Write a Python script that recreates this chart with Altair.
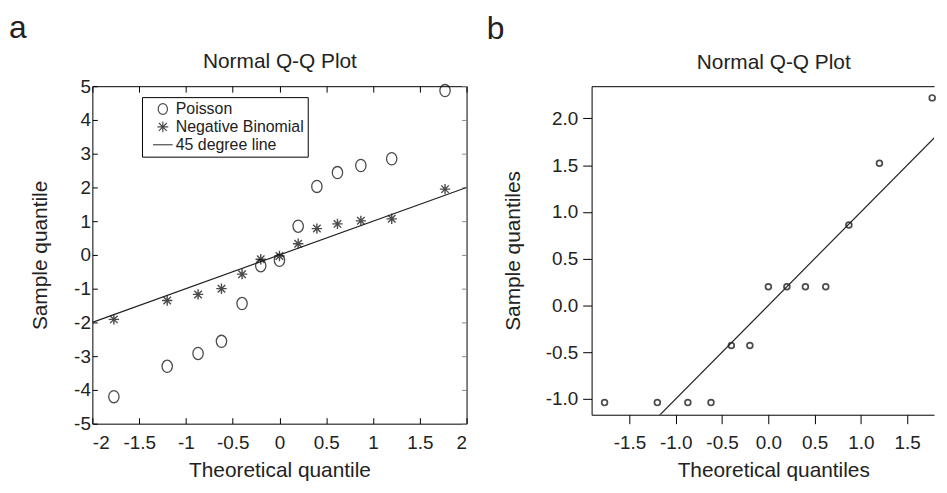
import altair as alt
import pandas as pd

# ---------------- data ----------------
theo = [-1.77, -1.2, -0.87, -0.62, -0.4, -0.2, 0.0, 0.2, 0.4, 0.62, 0.87, 1.2, 1.77]
poisson = [-4.2, -3.3, -2.92, -2.56, -1.44, -0.32, -0.16, 0.85, 2.03, 2.44, 2.65, 2.85, 4.87]
negbin = [-1.91, -1.35, -1.17, -1.0, -0.57, -0.13, -0.03, 0.33, 0.78, 0.92, 1.01, 1.07, 1.95]
line_a = [-2.0, 2.0]

sample_b = [-1.04, -1.04, -1.04, -1.04, -0.43, -0.43, 0.2, 0.2, 0.2, 0.2, 0.86, 1.52, 2.22]
line_b = [-2.0, 2.0]

series_names = ["Poisson", "Negative Binomial", "45 degree line"]
ticks_ax = [-2, -1.5, -1, -0.5, 0, 0.5, 1, 1.5, 2]
ticks_ay = [-5, -4, -3, -2, -1, 0, 1, 2, 3, 4, 5]
ticks_bx = [-1.5, -1.0, -0.5, 0.0, 0.5, 1.0, 1.5]
ticks_by = [-1.0, -0.5, 0.0, 0.5, 1.0, 1.5, 2.0]

FONT = "Liberation Sans"
TXT = "#222222"

df_p = pd.DataFrame({"theo": theo, "value": poisson, "series": series_names[0]})
df_n = pd.DataFrame({"theo": theo, "value": negbin, "series": series_names[1]})
df_la = pd.DataFrame({"lx": line_a, "ly": line_a})
df_b = pd.DataFrame({"theo": theo, "value": sample_b})
df_lb = pd.DataFrame({"lx": line_b, "ly": line_b})

ELLIPSE = "M0,-1A0.85,1,0,1,1,0,1A0.85,1,0,1,1,0,-1Z"
ASTER = "M-1,0L1,0M0,-1L0,1M-0.72,-0.72L0.72,0.72M-0.72,0.72L0.72,-0.72"
LINESYM = "M-1.8,0L1.8,0"

lab_a = "(datum.value < 0 ? '-' : '') + format(abs(datum.value), '~g')"
lab_b = "(datum.value < 0 ? '-' : '') + format(abs(datum.value), '.1f')"

# ---------------- panel a ----------------
xs_a = alt.Scale(domain=[-2, 2], nice=False, zero=False)
ys_a = alt.Scale(domain=[-5, 5], nice=False, zero=False)
shape_scale = alt.Scale(domain=series_names, range=[ELLIPSE, ASTER, LINESYM])

legend_a = alt.Legend(
    title=None, orient="none", legendX=50, legendY=11,
    strokeColor="black", fillColor="white", padding=4, rowPadding=2,
    symbolSize=120, symbolOffset=9, labelOffset=5,
    labelFontSize=16, labelFont=FONT, labelColor=TXT,
    symbolStrokeColor="black", symbolStrokeWidth=1.2,
    symbolFillColor="transparent", cornerRadius=0,
)

ax_bottom = alt.Axis(orient="bottom", values=ticks_ax, offset=-6, tickSize=6, domain=False,
                     labelExpr=lab_a, labelFontSize=19, labelPadding=10,
                     title="Theoretical quantile", titleFontSize=21, titlePadding=7)
ax_left = alt.Axis(orient="left", values=ticks_ay, offset=-5, tickSize=5, domain=False,
                   labelExpr=lab_a, labelFontSize=19, labelPadding=2,
                   title="Sample quantile", titleFontSize=21, titlePadding=23)
ax_top = alt.Axis(orient="top", values=ticks_ax, offset=-6, tickSize=6, domain=False,
                  labels=False, title="Normal Q-Q Plot", titleFontSize=21, titlePadding=14)
ax_right = alt.Axis(orient="right", values=ticks_ay, offset=-5, tickSize=5, domain=False,
                    labels=False, title=None, tickColor="#888888")

pois = alt.Chart(df_p).mark_point(filled=False, size=150, strokeWidth=1.3, color="black").encode(
    x=alt.X("theo:Q", scale=xs_a, axis=ax_bottom),
    y=alt.Y("value:Q", scale=ys_a, axis=ax_left),
    shape=alt.Shape("series:N", scale=shape_scale, legend=legend_a),
)
nb = alt.Chart(df_n).mark_point(filled=False, size=110, strokeWidth=1.4, color="black").encode(
    x=alt.X("theo:Q", scale=xs_a, axis=ax_top),
    y=alt.Y("value:Q", scale=ys_a, axis=ax_right),
    shape=alt.Shape("series:N", scale=shape_scale, legend=legend_a),
)
la = alt.Chart(df_la).mark_line(color="#222222", strokeWidth=1.2, clip=True).encode(
    x=alt.X("lx:Q", scale=xs_a, axis=None),
    y=alt.Y("ly:Q", scale=ys_a, axis=None),
)

panel_a = alt.layer(pois, nb, la).resolve_axis(x="independent", y="independent").properties(
    width=377, height=340,
    title=alt.TitleParams("a", anchor="start", fontSize=32, fontWeight="normal",
                          font=FONT, color=TXT, dx=-21, offset=6),
    view=alt.ViewBackground(stroke="black", strokeWidth=1),
)

# ---------------- panel b ----------------
xs_b = alt.Scale(domain=[-1.91, 1.79], nice=False, zero=False)
ys_b = alt.Scale(domain=[-1.17, 2.345], nice=False, zero=False)

bx_bottom = alt.Axis(orient="bottom", values=ticks_bx, tickSize=9, domain=True,
                     labelExpr=lab_b, labelFontSize=19, labelPadding=10,
                     title="Theoretical quantiles", titleFontSize=21, titlePadding=7, titleX=183)
by_left = alt.Axis(orient="left", values=ticks_by, tickSize=9, domain=True,
                   labelExpr=lab_b, labelFontSize=19, labelPadding=5,
                   title="Sample quantiles", titleFontSize=21, titlePadding=22)
bx_top = alt.Axis(orient="top", ticks=False, labels=False, domain=True,
                  title="Normal Q-Q Plot", titleFontSize=21, titlePadding=14, titleX=183)

pts_b = alt.Chart(df_b).mark_point(filled=False, size=34, strokeWidth=1.7, color="black").encode(
    x=alt.X("theo:Q", scale=xs_b, axis=bx_bottom),
    y=alt.Y("value:Q", scale=ys_b, axis=by_left),
)
lb = alt.Chart(df_lb).mark_line(color="#222222", strokeWidth=1.2, clip=True).encode(
    x=alt.X("lx:Q", scale=xs_b, axis=bx_top),
    y=alt.Y("ly:Q", scale=ys_b, axis=None),
)

panel_b = alt.layer(pts_b, lb).resolve_axis(x="independent", y="independent").properties(
    width=345, height=331,
    title=alt.TitleParams("b", anchor="start", fontSize=32, fontWeight="normal",
                          font=FONT, color=TXT, dx=-16, offset=6),
    view=alt.ViewBackground(strokeOpacity=0),
)

chart = alt.hconcat(panel_a, panel_b, spacing=19).properties(
    padding={"top": 2, "left": 0, "right": 0, "bottom": 0}
).configure_axis(
    grid=False, labelFont=FONT, titleFont=FONT, labelColor=TXT, titleColor=TXT,
    tickColor="black", domainColor="black", titleFontWeight="normal",
    tickWidth=1, domainWidth=1,
).configure_title(font=FONT, fontWeight="normal", color=TXT)

chart.save("out.html", embed_options={"renderer": "svg", "actions": False})
